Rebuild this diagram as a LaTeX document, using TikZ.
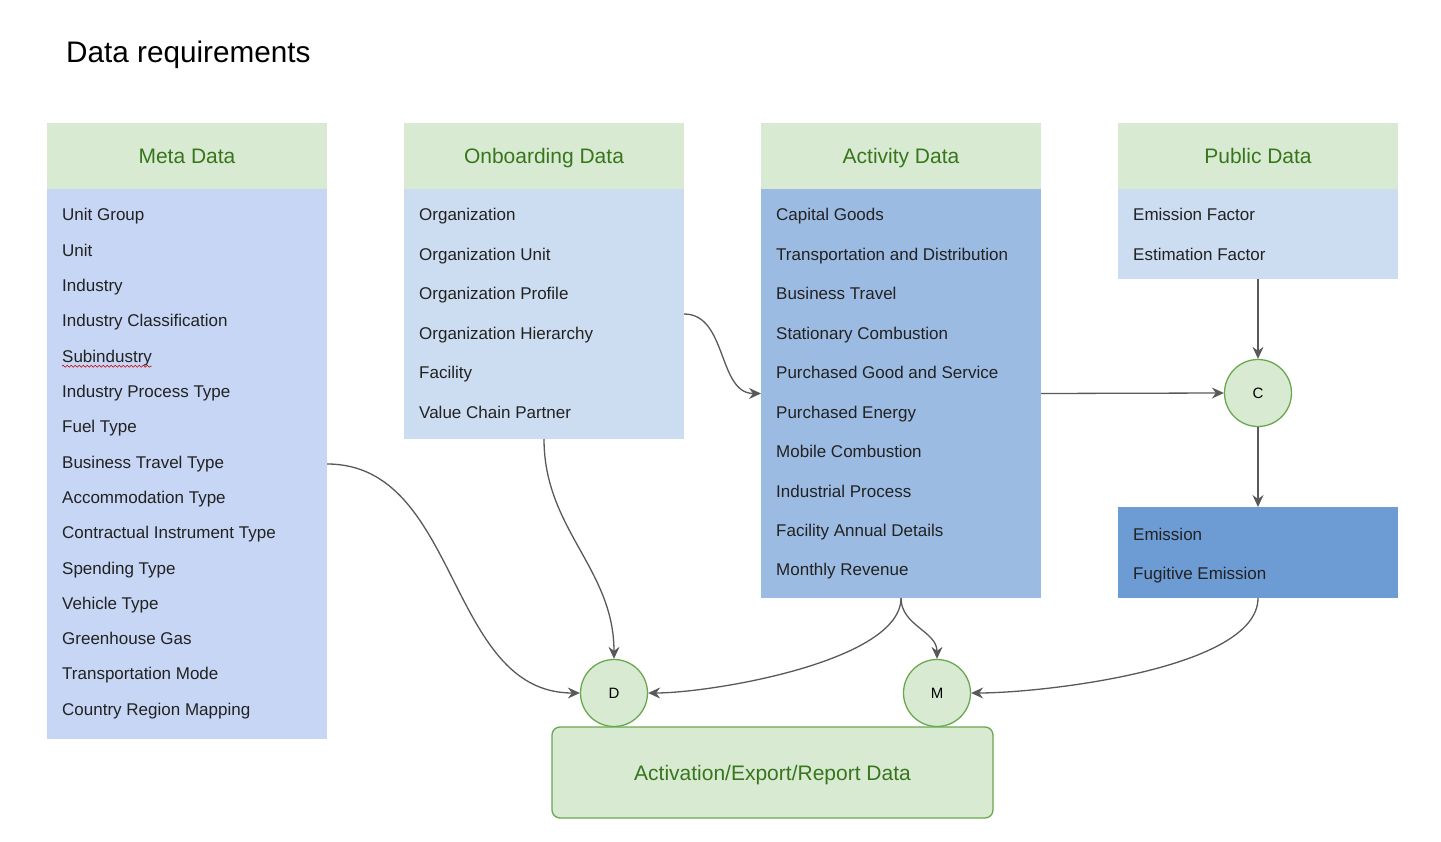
\documentclass[tikz,border=0pt]{standalone}
\usepackage{fontspec}
\setmainfont{Liberation Sans}
\usetikzlibrary{positioning}
\usetikzlibrary{calc}
\usetikzlibrary{arrows.meta}
\usetikzlibrary{decorations.pathmorphing}

\definecolor{headgreen}{HTML}{D9EAD3}
\definecolor{headtext}{HTML}{38761D}
\definecolor{boxgreen}{HTML}{6AA84F}
\definecolor{metablue}{HTML}{C6D6F4}
\definecolor{onbblue}{HTML}{CDDDF1}
\definecolor{actblue}{HTML}{9CBBE2}
\definecolor{emblue}{HTML}{6D9BD4}
\definecolor{itemtext}{HTML}{222222}
\definecolor{linegray}{HTML}{595959}

\begin{document}
\begin{tikzpicture}[x=1pt, y=1pt, font=\fontsize{17}{20}\selectfont]
        \tikzstyle{head_style} = [rectangle, fill=headgreen, text=headtext, minimum width=280pt, minimum height=66pt, inner sep=0pt, outer sep=0pt, text height=15pt, text depth=0pt, font=\fontsize{21}{25}\selectfont]
        \tikzstyle{body_style} = [rectangle, minimum width=280pt, inner sep=0pt, outer sep=0pt]
        \tikzstyle{item_style} = [anchor=base west, inner sep=0pt, text=itemtext]
        \tikzstyle{circle_style} = [circle, fill=headgreen, draw=boxgreen, line width=1.3pt, minimum size=67pt, inner sep=0pt, text height=10.5pt, text depth=0pt, font=\fontsize{15}{17}\selectfont]
        \tikzstyle{act_style} = [rectangle, rounded corners=8pt, fill=headgreen, draw=boxgreen, line width=1.3pt, text=headtext, minimum width=441pt, minimum height=91pt, text height=15pt, text depth=0pt, font=\fontsize{21}{25}\selectfont]
        \tikzstyle{arrow_style1} = [-{Stealth[length=12pt, width=11pt, inset=4pt]}, linegray, line width=1.3pt]

        \useasboundingbox (0,0) rectangle (1441,-842);

        \node[anchor=base west, inner sep=0pt, font=\fontsize{29.7}{34}\selectfont] (title) at (66,-63) {Data requirements};

        % the four columns
        \node[head_style] (h1) at (187,-156) {Meta Data};
        \node[body_style, fill=metablue, minimum height=550pt] (b1) [below=0pt of h1] {};
        \node[head_style] (h2) [right=77pt of h1] {Onboarding Data};
        \node[body_style, fill=onbblue, minimum height=250pt] (b2) [below=0pt of h2] {};
        \node[head_style] (h3) [right=77pt of h2] {Activity Data};
        \node[body_style, fill=actblue, minimum height=409pt] (b3) [below=0pt of h3] {};
        \node[head_style] (h4) [right=77pt of h3] {Public Data};
        \node[body_style, fill=onbblue, minimum height=90pt] (b4) [below=0pt of h4] {};
        \node[body_style, fill=emblue, minimum height=91pt] (b5) [below=228pt of b4] {};

        \foreach \t [count=\i] in {Unit Group, Unit, Industry, Industry Classification, Subindustry, Industry Process Type, Fuel Type, Business Travel Type, Accommodation Type, Contractual Instrument Type, Spending Type, Vehicle Type, Greenhouse Gas, Transportation Mode, Country Region Mapping}
            \node[item_style] (m\i) at ($(b1.north west)+(15,{-32-(\i-1)*35.3})$) {\t};
        \draw[red!80!black, line width=0.6pt, decorate, decoration={snake, segment length=4pt, amplitude=1pt}] ($(m5.base west)+(0,-4)$) -- ($(m5.base east)+(0,-4)$);

        \foreach \t [count=\i] in {Organization, Organization Unit, Organization Profile, Organization Hierarchy, Facility, Value Chain Partner}
            \node[item_style] (o\i) at ($(b2.north west)+(15,{-32-(\i-1)*39.4})$) {\t};

        \foreach \t [count=\i] in {Capital Goods, Transportation and Distribution, Business Travel, Stationary Combustion, Purchased Good and Service, Purchased Energy, Mobile Combustion, Industrial Process, Facility Annual Details, Monthly Revenue}
            \node[item_style] (a\i) at ($(b3.north west)+(15,{-32-(\i-1)*39.44})$) {\t};

        \foreach \t [count=\i] in {Emission Factor, Estimation Factor}
            \node[item_style] (p\i) at ($(b4.north west)+(15,{-32-(\i-1)*40})$) {\t};

        \foreach \t [count=\i] in {Emission, Fugitive Emission}
            \node[item_style] (e\i) at ($(b5.north west)+(15,{-33-(\i-1)*39})$) {\t};

        % joins
        \node[circle_style] (C) at ($(b4.south)!0.5!(b5.north)$) {C};
        \node[circle_style] (D) at (614,-693) {D};
        \node[circle_style] (M) at (937,-693) {M};
        \node[act_style] (act) at (772.5,-772.5) {Activation/Export/Report Data};

        \draw[arrow_style1] (b1.east) to[out=0, in=180] (D.west);
        \draw[arrow_style1] (b2.south) to[out=-90, in=90] (D.north);
        \draw[arrow_style1] (b2.east) to[out=0, in=180] (b3.west);
        \draw[arrow_style1] (b3.south) to[out=-90, in=0, looseness=0.6] (D.east);
        \draw[arrow_style1] (b3.south) to[out=-90, in=90] (M.north);
        \draw[arrow_style1] (b3.east) -- (C.west);
        \draw[arrow_style1] (b4.south) -- (C.north);
        \draw[arrow_style1] (C.south) -- (b5.north);
        \draw[arrow_style1] (b5.south) to[out=-90, in=0, looseness=0.6] (M.east);

    \end{tikzpicture}
\end{document}
